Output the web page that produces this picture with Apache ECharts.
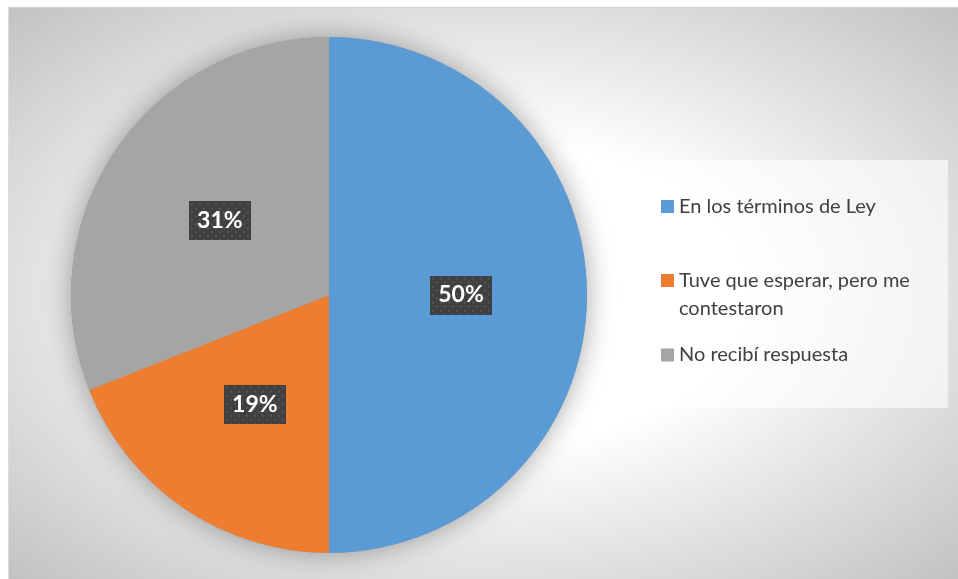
<!DOCTYPE html>
<html>
<head>
<meta charset="utf-8">
<script src="https://cdn.jsdelivr.net/npm/echarts@6/dist/echarts.min.js"></script>
<style>
  html, body { margin: 0; padding: 0; background: #ffffff; }
  #wrap {
    position: absolute; left: 8px; top: 7px; width: 950px; height: 572px;
    box-sizing: border-box;
    border-top: 1px solid #cfcfcf; border-left: 1px solid #dcdcdc;
    background: radial-gradient(ellipse farthest-corner at 50% 50%, #ffffff 38%, #c2c2c2 100%);
  }
  #chart { position: absolute; left: 0; top: 0; width: 949px; height: 571px; }
</style>
</head>
<body>
<div id="wrap"><div id="chart"></div></div>
<script>
// Survey answers and their shares (%)
const categories = [
  'En los términos de Ley',
  'Tuve que esperar, pero me contestaron',
  'No recibí respuesta'
];
const values = [50, 19, 31];
const colors = ['#5b9bd5', '#ed7d31', '#a5a5a5'];

// Dotted dark tile used behind the percentage labels
function dottedTile(w, h) {
  const c = document.createElement('canvas');
  c.width = w; c.height = h;
  const g = c.getContext('2d');
  g.fillStyle = '#404040';
  g.fillRect(0, 0, w, h);
  g.fillStyle = '#575757';
  for (let y = 2, row = 0; y < h; y += 4, row++) {
    for (let x = (row % 2) * 4 + 2; x < w; x += 8) {
      g.fillRect(x, y, 2, 2);
    }
  }
  return c;
}
const tile = dottedTile(62, 39);

const chart = echarts.init(document.getElementById('chart'), null, { renderer: 'canvas' });

const center = [320, 287];
const radius = 258;
const fontFamily = 'Lato, "Noto Sans", sans-serif';

function legendBlock(name, top) {
  return {
    data: [name],
    left: 652,
    top: top,
    padding: 0,
    orient: 'vertical',
    icon: 'rect',
    itemWidth: 13,
    itemHeight: 13,
    itemGap: 0,
    selectedMode: false,
    // the long answer wraps onto a second line, first line beside the marker
    formatter: function (n) {
      return n === categories[1] ? '\nTuve que esperar, pero me\ncontestaron' : n;
    },
    textStyle: {
      color: '#404040',
      fontFamily: fontFamily,
      fontSize: 20,
      lineHeight: 28
    }
  };
}

chart.setOption({
  backgroundColor: 'transparent',
  animation: false,
  graphic: [{
    type: 'rect',
    left: 639, top: 152,
    shape: { width: 300, height: 248 },
    style: { fill: 'rgba(255,255,255,0.62)' },
    z: -1
  }],
  legend: [
    legendBlock(categories[0], 184.5),
    legendBlock(categories[1], 230.5),
    legendBlock(categories[2], 333)
  ],
  series: [
    {
      // soft halo underneath the pie
      type: 'pie',
      name: 'sombra',
      silent: true,
      center: center,
      radius: radius,
      label: { show: false },
      labelLine: { show: false },
      data: [{ value: 1, name: ' ' }],
      itemStyle: {
        color: '#a0a0a0',
        shadowBlur: 28,
        shadowColor: 'rgba(0,0,0,0.35)'
      },
      z: 1
    },
    {
      type: 'pie',
      name: 'Respuesta',
      center: center,
      radius: radius,
      startAngle: 90,
      clockwise: true,
      avoidLabelOverlap: false,
      data: categories.map((c, i) => ({
        name: c, value: values[i], itemStyle: { color: colors[i] }
      })),
      itemStyle: { borderWidth: 0 },
      label: {
        show: true,
        position: 'inside',
        formatter: '{c}%',
        color: '#ffffff',
        fontFamily: fontFamily,
        fontWeight: 'bold',
        fontSize: 23,
        lineHeight: 23,
        width: 46,
        height: 23,
        overflow: 'none',
        align: 'center',
        padding: [8, 8],
        backgroundColor: { image: tile },
        shadowColor: 'rgba(0,0,0,0.45)',
        shadowBlur: 4,
        shadowOffsetX: 2,
        shadowOffsetY: 2
      },
      labelLine: { show: false },
      emphasis: { disabled: true },
      z: 2
    }
  ]
});
</script>
</body>
</html>
